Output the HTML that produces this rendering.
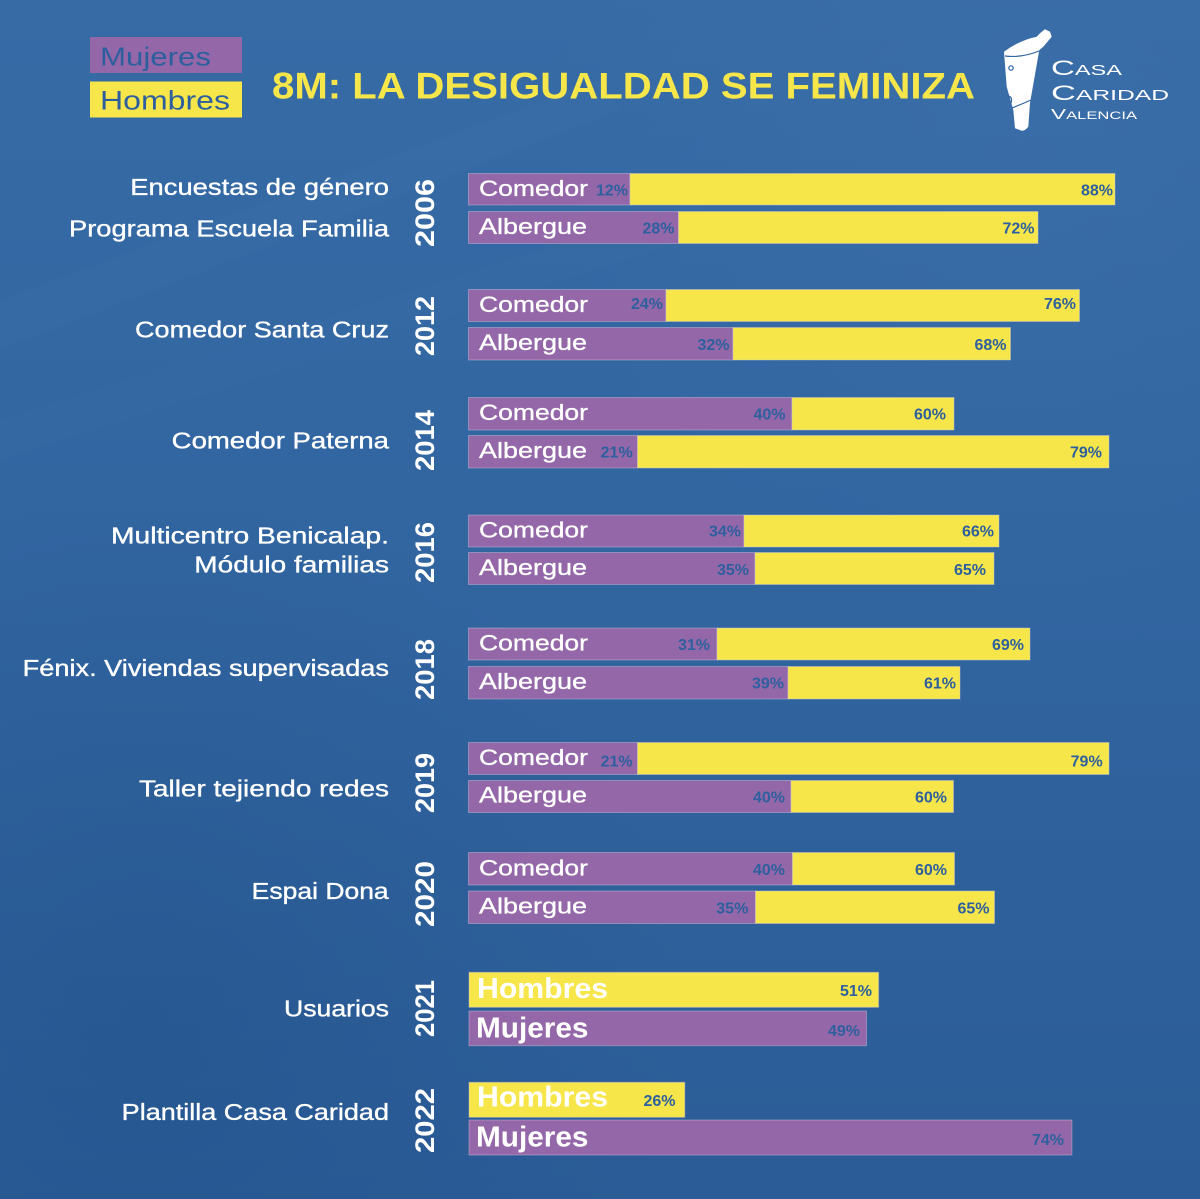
<!DOCTYPE html>
<html>
<head>
<meta charset="utf-8">
<style>
html,body{margin:0;padding:0;background:#3166a1;}
svg{display:block;}
text{font-family:"Liberation Sans",Arial,sans-serif;}
</style>
</head>
<body>
<svg width="1200" height="1199" viewBox="0 0 1200 1199" xmlns="http://www.w3.org/2000/svg">
<defs>
<linearGradient id="bg" x1="0" y1="0" x2="0" y2="1">
<stop offset="0" stop-color="#376ba6"/>
<stop offset="0.5" stop-color="#3165a0"/>
<stop offset="1" stop-color="#2b5c97"/>
</linearGradient>
<radialGradient id="bl" cx="0.12" cy="0.85" r="0.45">
<stop offset="0" stop-color="#1f4c84" stop-opacity="0.35"/>
<stop offset="1" stop-color="#1f4c84" stop-opacity="0"/>
</radialGradient>
<radialGradient id="tr" cx="0.85" cy="0.1" r="0.4">
<stop offset="0" stop-color="#4477b0" stop-opacity="0.25"/>
<stop offset="1" stop-color="#4477b0" stop-opacity="0"/>
</radialGradient>
</defs>
<rect width="1200" height="1199" fill="url(#bg)"/>
<rect width="1200" height="1199" fill="url(#bl)"/>
<rect width="1200" height="1199" fill="url(#tr)"/>
<path d="M0 300 L600 80 L620 110 L0 350 Z" fill="#4a7cb3" opacity="0.1"/>
<path d="M0 420 L700 200 L720 230 L0 460 Z" fill="#4a7cb3" opacity="0.07"/>

<!-- Legend -->
<rect x="90" y="37" width="152" height="36" fill="#9468a8"/>
<text x="100" y="65.5" font-size="26" fill="#2d5f9f" textLength="111" lengthAdjust="spacingAndGlyphs">Mujeres</text>
<rect x="90" y="81.5" width="152" height="36" fill="#f6e64a"/>
<text x="100" y="109.3" font-size="27" fill="#2d5f9f" textLength="130" lengthAdjust="spacingAndGlyphs">Hombres</text>

<!-- Title -->
<text x="272" y="98.7" font-size="37" font-weight="bold" fill="#f6e64a" textLength="703" lengthAdjust="spacingAndGlyphs">8M: LA DESIGUALDAD SE FEMINIZA</text>

<!-- Logo -->
<path d="M1004 51.7 Q1020 40 1036.7 36.7 L1040 33.3 L1045 29.3 L1050 31.7 L1051.7 36.7 L1043.3 46.7 L1039.3 50 L1030 103 L1028.3 126.7 Q1025 131 1021.7 130.7 L1015 128.3 L1013.3 110 L1006.7 86.7 Z" fill="#ffffff"/>
<path d="M1005 56 Q1022 58 1039 51" stroke="#3166a1" stroke-width="1.2" fill="none"/>
<path d="M1012 108 Q1022 104 1031 100" stroke="#3166a1" stroke-width="1.2" fill="none"/>
<circle cx="1011" cy="68" r="2.2" stroke="#3166a1" stroke-width="1.2" fill="none"/>
<path d="M1008 96 Q1013 97 1011 103" stroke="#3166a1" stroke-width="1.2" fill="none"/>
<text x="1051" y="75" font-size="21" fill="#ffffff" font-variant="small-caps" textLength="71" lengthAdjust="spacingAndGlyphs">Casa</text>
<text x="1051" y="100" font-size="21" fill="#ffffff" font-variant="small-caps" textLength="118" lengthAdjust="spacingAndGlyphs">Caridad</text>
<text x="1051" y="119" font-size="15" fill="#ffffff" font-variant="small-caps" textLength="86" lengthAdjust="spacingAndGlyphs">Valencia</text>

<!-- Left labels -->
<g font-size="23" fill="#ffffff" stroke="#ffffff" stroke-width="0.35">
<text x="130.3" y="195" textLength="258.7" lengthAdjust="spacingAndGlyphs">Encuestas de género</text>
<text x="69" y="236.5" textLength="320" lengthAdjust="spacingAndGlyphs">Programa Escuela Familia</text>
<text x="135" y="337.7" textLength="254" lengthAdjust="spacingAndGlyphs">Comedor Santa Cruz</text>
<text x="171.7" y="448.7" textLength="217.3" lengthAdjust="spacingAndGlyphs">Comedor Paterna</text>
<text x="111" y="543.3" textLength="278" lengthAdjust="spacingAndGlyphs">Multicentro Benicalap.</text>
<text x="194.3" y="572.3" textLength="194.7" lengthAdjust="spacingAndGlyphs">Módulo familias</text>
<text x="22.7" y="676" textLength="366.3" lengthAdjust="spacingAndGlyphs">Fénix. Viviendas supervisadas</text>
<text x="139" y="796.5" textLength="250" lengthAdjust="spacingAndGlyphs">Taller tejiendo redes</text>
<text x="251.7" y="899" textLength="137" lengthAdjust="spacingAndGlyphs">Espai Dona</text>
<text x="284" y="1016.7" textLength="105" lengthAdjust="spacingAndGlyphs">Usuarios</text>
<text x="121.7" y="1120" textLength="267.3" lengthAdjust="spacingAndGlyphs">Plantilla Casa Caridad</text>
</g>

<!-- Years -->
<g font-size="27" font-weight="bold" fill="#ffffff" text-anchor="middle">
<text transform="translate(434,213) rotate(-90)" textLength="68" lengthAdjust="spacingAndGlyphs">2006</text>
<text transform="translate(434,326) rotate(-90)" textLength="60" lengthAdjust="spacingAndGlyphs">2012</text>
<text transform="translate(434,440.5) rotate(-90)" textLength="61" lengthAdjust="spacingAndGlyphs">2014</text>
<text transform="translate(434,552.5) rotate(-90)" textLength="61" lengthAdjust="spacingAndGlyphs">2016</text>
<text transform="translate(434,669.5) rotate(-90)" textLength="61" lengthAdjust="spacingAndGlyphs">2018</text>
<text transform="translate(434,783) rotate(-90)" textLength="60" lengthAdjust="spacingAndGlyphs">2019</text>
<text transform="translate(434,894) rotate(-90)" textLength="66" lengthAdjust="spacingAndGlyphs">2020</text>
<text transform="translate(434,1008.5) rotate(-90)" textLength="57" lengthAdjust="spacingAndGlyphs">2021</text>
<text transform="translate(434,1120.5) rotate(-90)" textLength="65" lengthAdjust="spacingAndGlyphs">2022</text>
</g>

<!-- Bars -->
<g stroke="#c9c0d8" stroke-opacity="0.45" stroke-width="1">
<rect x="468.5" y="173.5" width="161.5" height="31.5" fill="#9468a8"/>
<rect x="630" y="173.5" width="485" height="31.5" fill="#f6e64a"/>
<rect x="468.5" y="211.5" width="210" height="32" fill="#9468a8"/>
<rect x="678.5" y="211.5" width="359.5" height="32" fill="#f6e64a"/>
<rect x="468.5" y="289.5" width="197.5" height="32" fill="#9468a8"/>
<rect x="666" y="289.5" width="413.5" height="32" fill="#f6e64a"/>
<rect x="468.5" y="327.5" width="264.5" height="32.5" fill="#9468a8"/>
<rect x="733" y="327.5" width="277.5" height="32.5" fill="#f6e64a"/>
<rect x="468.5" y="397.5" width="323.5" height="32.5" fill="#9468a8"/>
<rect x="792" y="397.5" width="162" height="32.5" fill="#f6e64a"/>
<rect x="468.5" y="435.5" width="169" height="32.5" fill="#9468a8"/>
<rect x="637.5" y="435.5" width="471.5" height="32.5" fill="#f6e64a"/>
<rect x="468.5" y="515" width="275.5" height="32" fill="#9468a8"/>
<rect x="744" y="515" width="255" height="32" fill="#f6e64a"/>
<rect x="468.5" y="552.5" width="286.5" height="32" fill="#9468a8"/>
<rect x="755" y="552.5" width="239" height="32" fill="#f6e64a"/>
<rect x="468.5" y="628" width="248.5" height="32" fill="#9468a8"/>
<rect x="717" y="628" width="313" height="32" fill="#f6e64a"/>
<rect x="468.5" y="666.5" width="319.5" height="32.5" fill="#9468a8"/>
<rect x="788" y="666.5" width="172" height="32.5" fill="#f6e64a"/>
<rect x="468.5" y="742.5" width="169" height="32" fill="#9468a8"/>
<rect x="637.5" y="742.5" width="471.5" height="32" fill="#f6e64a"/>
<rect x="468.5" y="780.5" width="322.5" height="32" fill="#9468a8"/>
<rect x="791" y="780.5" width="162.5" height="32" fill="#f6e64a"/>
<rect x="468.5" y="852.5" width="324" height="32.5" fill="#9468a8"/>
<rect x="792.5" y="852.5" width="162" height="32.5" fill="#f6e64a"/>
<rect x="468.5" y="891" width="287" height="32.5" fill="#9468a8"/>
<rect x="755.5" y="891" width="239" height="32.5" fill="#f6e64a"/>
<rect x="469" y="972.3" width="409.6" height="35" fill="#f6e64a"/>
<rect x="469" y="1011" width="397.5" height="34.7" fill="#9468a8"/>
<rect x="469" y="1082.3" width="215.8" height="35" fill="#f6e64a"/>
<rect x="469" y="1120" width="602.9" height="35" fill="#9468a8"/>
</g>

<!-- Bar labels -->
<g font-size="22" fill="#ffffff" stroke="#ffffff" stroke-width="0.3">
<text x="479" y="196" textLength="109" lengthAdjust="spacingAndGlyphs">Comedor</text>
<text x="479" y="234" textLength="108" lengthAdjust="spacingAndGlyphs">Albergue</text>
<text x="479" y="312" textLength="109" lengthAdjust="spacingAndGlyphs">Comedor</text>
<text x="479" y="350" textLength="108" lengthAdjust="spacingAndGlyphs">Albergue</text>
<text x="479" y="420" textLength="109" lengthAdjust="spacingAndGlyphs">Comedor</text>
<text x="479" y="458" textLength="108" lengthAdjust="spacingAndGlyphs">Albergue</text>
<text x="479" y="537.5" textLength="109" lengthAdjust="spacingAndGlyphs">Comedor</text>
<text x="479" y="575" textLength="108" lengthAdjust="spacingAndGlyphs">Albergue</text>
<text x="479" y="650.5" textLength="109" lengthAdjust="spacingAndGlyphs">Comedor</text>
<text x="479" y="689" textLength="108" lengthAdjust="spacingAndGlyphs">Albergue</text>
<text x="479" y="765" textLength="109" lengthAdjust="spacingAndGlyphs">Comedor</text>
<text x="479" y="802.7" textLength="108" lengthAdjust="spacingAndGlyphs">Albergue</text>
<text x="479" y="875.5" textLength="109" lengthAdjust="spacingAndGlyphs">Comedor</text>
<text x="479" y="913.5" textLength="108" lengthAdjust="spacingAndGlyphs">Albergue</text>
</g>
<g font-size="29" font-weight="bold" fill="#ffffff">
<text x="477" y="998" textLength="131" lengthAdjust="spacingAndGlyphs">Hombres</text>
<text x="476" y="1037.7" textLength="112.5" lengthAdjust="spacingAndGlyphs">Mujeres</text>
<text x="477" y="1106.7" textLength="131" lengthAdjust="spacingAndGlyphs">Hombres</text>
<text x="476" y="1146.7" textLength="112.5" lengthAdjust="spacingAndGlyphs">Mujeres</text>
</g>

<!-- Percentages -->
<g font-size="16" font-weight="bold" fill="#2e5f9e" text-anchor="end">
<text x="628" y="195.5">12%</text>
<text x="1113" y="195.5">88%</text>
<text x="674.5" y="233.3">28%</text>
<text x="1034.5" y="233.3">72%</text>
<text x="663" y="309.2">24%</text>
<text x="1076" y="309.2">76%</text>
<text x="729.5" y="350">32%</text>
<text x="1006.5" y="350">68%</text>
<text x="785.5" y="419.5">40%</text>
<text x="946" y="419.5">60%</text>
<text x="632.7" y="457.5">21%</text>
<text x="1102" y="457.5">79%</text>
<text x="741" y="536.7">34%</text>
<text x="994" y="536.7">66%</text>
<text x="749" y="575">35%</text>
<text x="986" y="575">65%</text>
<text x="710" y="650">31%</text>
<text x="1024" y="650">69%</text>
<text x="784" y="688.3">39%</text>
<text x="956" y="688.3">61%</text>
<text x="632.6" y="766.7">21%</text>
<text x="1102.7" y="766.7">79%</text>
<text x="785" y="802.7">40%</text>
<text x="947" y="802.7">60%</text>
<text x="785" y="875">40%</text>
<text x="947" y="875">60%</text>
<text x="748.3" y="913.3">35%</text>
<text x="989.5" y="913.3">65%</text>
<text x="872" y="996">51%</text>
<text x="860" y="1036">49%</text>
<text x="675.5" y="1106">26%</text>
<text x="1064" y="1145">74%</text>
</g>
</svg>
</body>
</html>
